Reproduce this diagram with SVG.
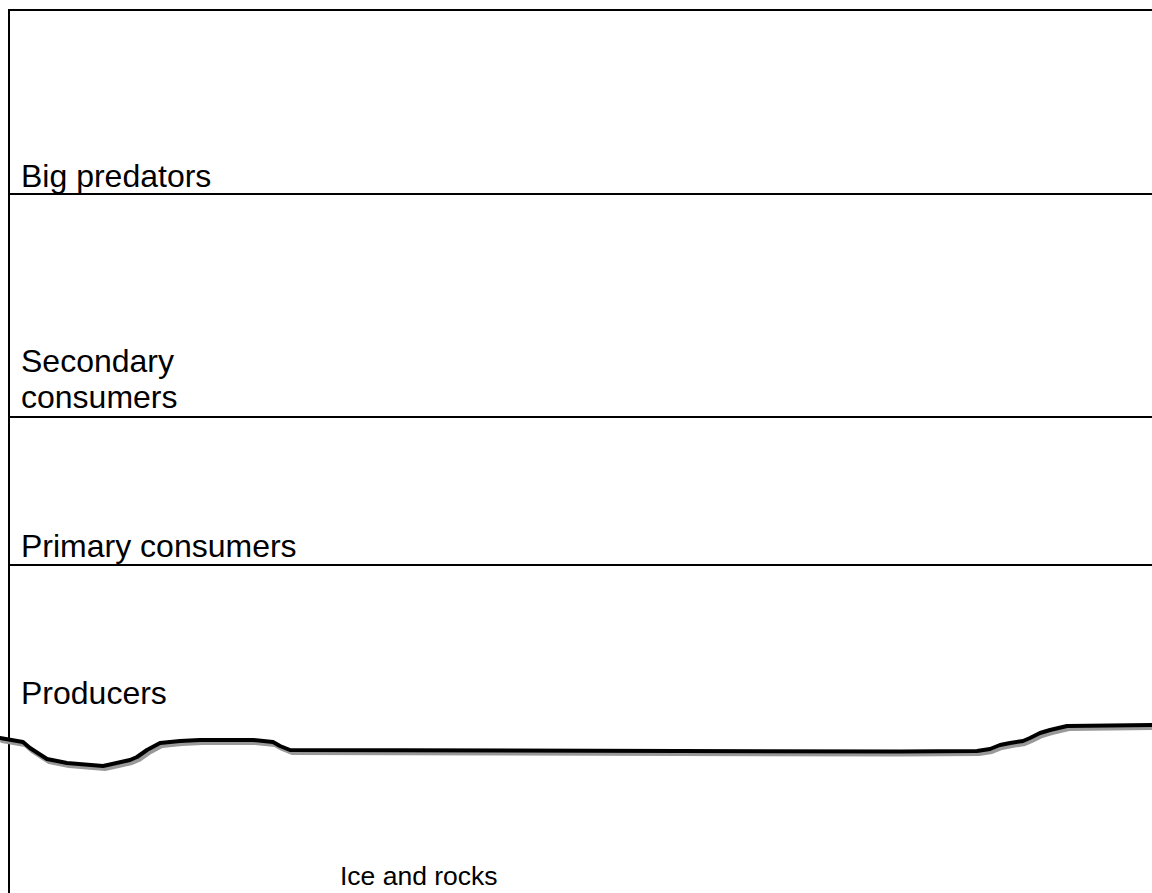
<svg xmlns="http://www.w3.org/2000/svg" width="1152" height="893" viewBox="0 0 1152 893">
  <style>
    .rule { stroke: #000; stroke-width: 2; fill: none; }
    .lbl { font-family: "Liberation Sans", Arial, sans-serif; font-size: 32px; fill: #000; }
    .small { font-family: "Liberation Sans", Arial, sans-serif; font-size: 26.5px; fill: #000; }
    .ground { fill: none; stroke-width: 4; stroke-linejoin: round; stroke-linecap: round; }
  </style>
  <rect x="0" y="0" width="1152" height="893" fill="#fff"/>
  <g id="frame">
    <line class="rule" x1="9" y1="10" x2="1152" y2="10"/>
    <line class="rule" x1="9" y1="9" x2="9" y2="893"/>
  </g>
  <g id="level-big-predators">
    <text class="lbl" x="21" y="187">Big predators</text>
    <line class="rule" x1="9" y1="194" x2="1152" y2="194"/>
  </g>
  <g id="level-secondary-consumers">
    <text class="lbl" x="21" y="372">Secondary</text>
    <text class="lbl" x="21" y="408">consumers</text>
    <line class="rule" x1="9" y1="417" x2="1152" y2="417"/>
  </g>
  <g id="level-primary-consumers">
    <text class="lbl" x="21" y="557">Primary consumers</text>
    <line class="rule" x1="9" y1="565" x2="1152" y2="565"/>
  </g>
  <g id="level-producers">
    <text class="lbl" x="21" y="704">Producers</text>
  </g>
  <g id="ground-line">
    <path class="ground" stroke="#999" transform="translate(2,3)" d="M0,738 L23,742 L30,748 L47,759 L67,763 L103,766 L130,760 L137,757 L147,750 L160,743 L180,741 L200,740 L253,740 L273,742 L280,746 L290,750 L900,751.5 L977,751 L990,749 L1000,745 L1010,743 L1023,741 L1030,738 L1040,733 L1050,730 L1067,726 L1152,725"/>
    <path class="ground" stroke="#000" d="M0,738 L23,742 L30,748 L47,759 L67,763 L103,766 L130,760 L137,757 L147,750 L160,743 L180,741 L200,740 L253,740 L273,742 L280,746 L290,750 L900,751.5 L977,751 L990,749 L1000,745 L1010,743 L1023,741 L1030,738 L1040,733 L1050,730 L1067,726 L1152,725"/>
  </g>
  <g id="ice-and-rocks">
    <text class="small" x="340" y="885">Ice and rocks</text>
  </g>
</svg>
